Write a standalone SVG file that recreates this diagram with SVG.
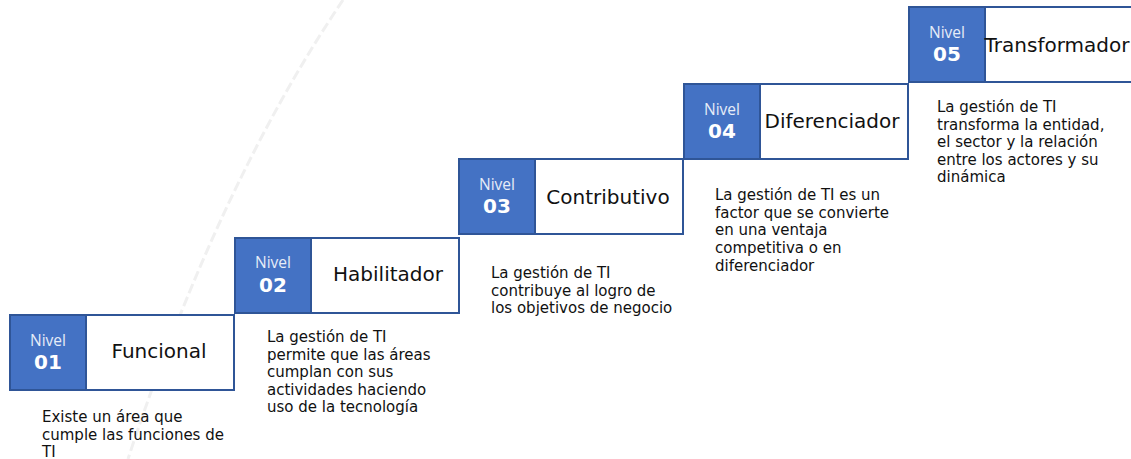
<svg xmlns="http://www.w3.org/2000/svg" width="1131" height="459" viewBox="0 0 1131 459">
<style>
.box{fill:#fff;stroke:#2F5597;stroke-width:2}
.sq{fill:#4472C4;stroke:#2F5597;stroke-width:2}
.niv{font-family:"Open Sans","DejaVu Sans",sans-serif;font-size:15.5px;fill:#E6ECF8;text-anchor:middle}
.num{font-family:"DejaVu Sans",sans-serif;font-size:20px;font-weight:bold;fill:#fff;text-anchor:middle}
.ttl{font-family:"DejaVu Sans",sans-serif;font-size:20px;fill:#111;text-anchor:middle}
.dsc{font-family:"DejaVu Sans",sans-serif;font-size:15px;fill:#111}
</style>
<rect width="1131" height="459" fill="#fff"/>
<g id="connectors">
<path d="M343,0 Q218,185 128,459" fill="none" stroke="#f0f0f0" stroke-width="3" stroke-dasharray="10 4"/>
</g>
<g id="nivel1">
<rect class="box" x="10" y="315" width="224" height="75"/>
<rect class="sq" x="10" y="315" width="76" height="75"/>
<text class="niv" x="48" y="346">Nivel</text>
<text class="num" x="48" y="369">01</text>
<text class="ttl" x="159" y="358">Funcional</text>
<text class="dsc"><tspan x="42" y="422">Existe un área que</tspan><tspan x="42" y="440">cumple las funciones de</tspan><tspan x="42" y="457">TI</tspan></text>
</g>
<g id="nivel2">
<rect class="box" x="235" y="238" width="224" height="75"/>
<rect class="sq" x="235" y="238" width="76" height="75"/>
<text class="niv" x="273" y="268">Nivel</text>
<text class="num" x="273" y="292">02</text>
<text class="ttl" x="388" y="281">Habilitador</text>
<text class="dsc"><tspan x="267" y="342">La gestión de TI</tspan><tspan x="267" y="360">permite que las áreas</tspan><tspan x="267" y="377">cumplan con sus</tspan><tspan x="267" y="395">actividades haciendo</tspan><tspan x="267" y="412">uso de la tecnología</tspan></text>
</g>
<g id="nivel3">
<rect class="box" x="459" y="159" width="224" height="75"/>
<rect class="sq" x="459" y="159" width="76" height="75"/>
<text class="niv" x="497" y="190">Nivel</text>
<text class="num" x="497" y="213">03</text>
<text class="ttl" x="608" y="204">Contributivo</text>
<text class="dsc"><tspan x="491" y="278">La gestión de TI</tspan><tspan x="491" y="296">contribuye al logro de</tspan><tspan x="491" y="313">los objetivos de negocio</tspan></text>
</g>
<g id="nivel4">
<rect class="box" x="684" y="84" width="224" height="75"/>
<rect class="sq" x="684" y="84" width="76" height="75"/>
<text class="niv" x="722" y="115">Nivel</text>
<text class="num" x="722" y="138">04</text>
<text class="ttl" x="832" y="128">Diferenciador</text>
<text class="dsc"><tspan x="715" y="200">La gestión de TI es un</tspan><tspan x="715" y="218">factor que se convierte</tspan><tspan x="715" y="235">en una ventaja</tspan><tspan x="715" y="253">competitiva o en</tspan><tspan x="715" y="271">diferenciador</tspan></text>
</g>
<g id="nivel5">
<rect class="box" x="909" y="7" width="224" height="75"/>
<rect class="sq" x="909" y="7" width="76" height="75"/>
<text class="niv" x="947" y="38">Nivel</text>
<text class="num" x="947" y="61">05</text>
<text class="ttl" x="1057" y="52">Transformador</text>
<text class="dsc"><tspan x="937" y="112">La gestión de TI</tspan><tspan x="937" y="130">transforma la entidad,</tspan><tspan x="937" y="147">el sector y la relación</tspan><tspan x="937" y="165">entre los actores y su</tspan><tspan x="937" y="182">dinámica</tspan></text>
</g>
</svg>
